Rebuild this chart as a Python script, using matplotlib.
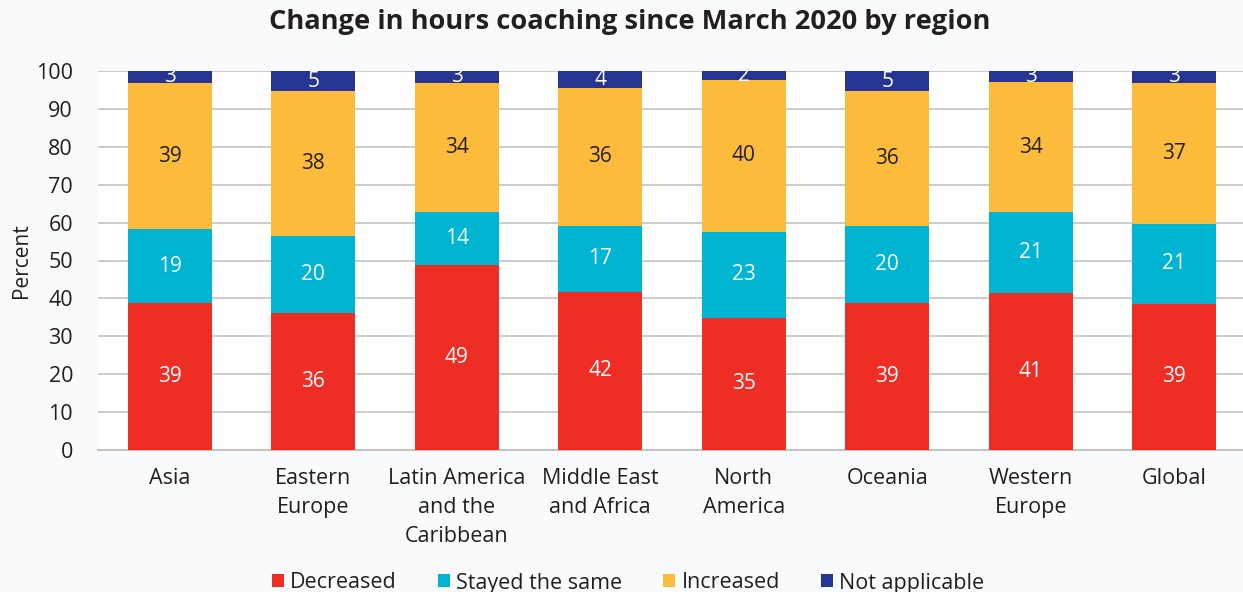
import matplotlib
matplotlib.use("Agg")
import matplotlib.pyplot as plt
import numpy as np
from matplotlib.patches import Patch

categories = ["Asia", "Eastern\nEurope", "Latin America\nand the\nCaribbean",
              "Middle East\nand Africa", "North\nAmerica", "Oceania",
              "Western\nEurope", "Global"]
decreased = [38.8, 36.1, 48.8, 41.8, 34.9, 38.7, 41.4, 38.6]
stayed = [19.4, 20.4, 14.0, 17.4, 22.7, 20.3, 21.4, 21.0]
increased = [38.7, 38.1, 34.1, 36.4, 40.0, 35.6, 34.2, 37.3]
not_applicable = [3.1, 5.4, 3.1, 4.4, 2.4, 5.4, 3.0, 3.1]
series_names = ["Decreased", "Stayed the same", "Increased", "Not applicable"]
colors = ["#ee2e24", "#00b5d1", "#fdbb3b", "#263591"]
label_colors = ["white", "white", "#231f20", "white"]

plt.rcParams['font.family'] = ['Open Sans', 'DejaVu Sans']

W, H = 1243, 592
fig = plt.figure(figsize=(W / 100, H / 100), dpi=100, facecolor="#f9fafc")
ax = fig.add_axes([98 / W, 1 - 450 / H, (1246 - 98) / W, (450 - 71) / H])
ax.set_facecolor("white")

x = np.arange(len(categories))
bottom = np.zeros(len(categories))
for vals, c, lc in zip([decreased, stayed, increased, not_applicable], colors, label_colors):
    vals = np.array(vals)
    ax.bar(x, vals, bottom=bottom, width=0.585, color=c, zorder=3)
    for xi, b, v in zip(x, bottom, vals):
        ax.text(xi, b + v / 2, f"{int(round(v))}", ha="center", va="center",
                color=lc, fontsize=15, zorder=4)
    bottom += vals

ax.set_xlim(-0.5, len(categories) - 0.5)
ax.set_ylim(0, 100)
ax.set_yticks(range(0, 101, 10))
ax.yaxis.grid(True, color="#cbc7c4", linewidth=1.3, zorder=0)
ax.set_axisbelow(True)
for s in ["top", "right", "left"]:
    ax.spines[s].set_visible(False)
ax.spines["bottom"].set_color("#c6c2bf")
ax.spines["bottom"].set_linewidth(1.5)
ax.tick_params(axis="both", length=0, labelsize=15.5, colors="#231f20")
ax.tick_params(axis="y", pad=18)
ax.tick_params(axis="x", pad=13)
ax.set_xticks(x)
ax.set_xticklabels(categories, linespacing=1.5)
ax.set_ylabel("Percent", fontsize=15, color="#231f20", labelpad=3)

fig.text(630 / W, 1 - 22 / H, "Change in hours coaching since March 2020 by region",
         ha="center", va="center", fontsize=19.6, fontweight="bold", color="#231f20")

handles = [Patch(facecolor=c, edgecolor="none") for c in colors]
leg = fig.legend(handles, series_names, loc="center", bbox_to_anchor=(628 / W, 1 - 583 / H),
                 ncol=4, frameon=False, fontsize=15.5, handlelength=0.55, handleheight=0.55,
                 handletextpad=0.3, columnspacing=1.9)
for t in leg.get_texts():
    t.set_color("#231f20")

fig.savefig("out.png", dpi=100, facecolor=fig.get_facecolor())
